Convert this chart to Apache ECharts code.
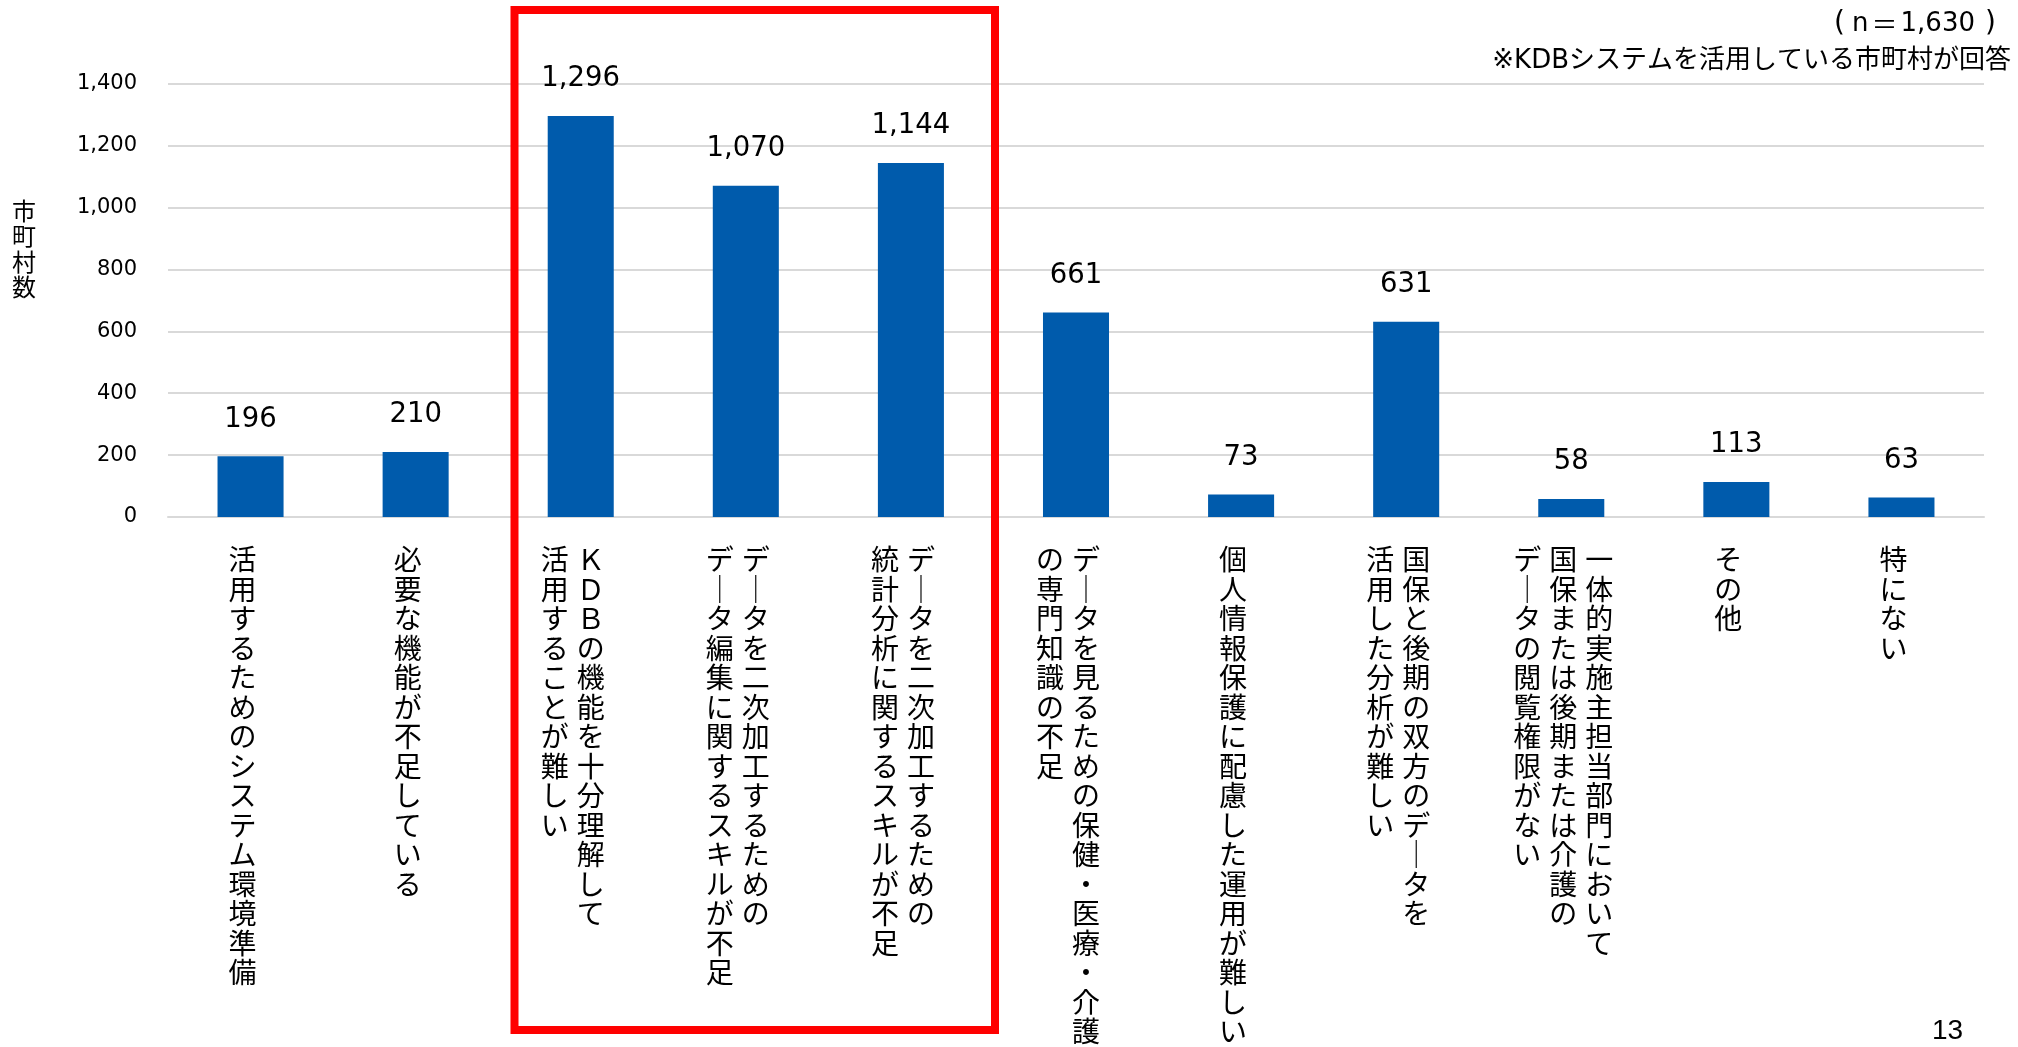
<!DOCTYPE html>
<html>
<head>
<meta charset="utf-8">
<script src="https://cdn.jsdelivr.net/npm/echarts@6/dist/echarts.min.js"></script>
<style>
  html, body { margin: 0; padding: 0; background: #ffffff; }
  #chart { width: 2018px; height: 1047px; }
</style>
</head>
<body>
<div id="chart"></div>
<script>
// Survey answers (multiple choice); a line break starts a new vertical column
const categories = [
  '活用するためのシステム環境準備',
  '必要な機能が不足している',
  'ＫＤＢの機能を十分理解して\n活用することが難しい',
  'データを二次加工するための\nデータ編集に関するスキルが不足',
  'データを二次加工するための\n統計分析に関するスキルが不足',
  'データを見るための保健・医療・介護\nの専門知識の不足',
  '個人情報保護に配慮した運用が難しい',
  '国保と後期の双方のデータを\n活用した分析が難しい',
  '一体的実施主担当部門において\n国保または後期または介護の\nデータの閲覧権限がない',
  'その他',
  '特にない'
];

// Number of municipalities per answer
const counts = [196, 210, 1296, 1070, 1144, 661, 73, 631, 58, 113, 63];

// Value axis ticks
const yMin = 0;
const yMax = 1400;
const yStep = 200;

const axisTitle = '市町村数';
const sampleSize = '1,630';
const scopeNote = '※KDBシステムを活用している市町村が回答';
const pageNumber = '13';

const JP = "'Noto Sans CJK JP', sans-serif";
const NUM = "'DejaVu Sans', 'Noto Sans CJK JP', sans-serif";

// Long vowel mark (U+30FC) is written as a vertical stroke in vertical text
const LONG_MARK = /\u30FC/g;
const LONG_MARK_VERTICAL = '\uFF5C';

// Turn "col1\ncol2" into top-to-bottom Japanese vertical writing,
// first column on the right, one character per rich-text cell.
function toVertical(text) {
  const cols = text.split('\n').map(s => Array.from(s.replace(LONG_MARK, LONG_MARK_VERTICAL)));
  const n = Math.max(...cols.map(c => c.length));
  const lines = [];
  for (let i = 0; i < n; i++) {
    let line = '';
    for (let j = cols.length - 1; j >= 0; j--) {
      line += '{c|' + (cols[j][i] || '\u3000') + '}';
    }
    lines.push(line);
  }
  return lines.join('\n');
}

const chart = echarts.init(document.getElementById('chart'), null, { renderer: 'canvas' });

chart.setOption({
  animation: false,
  backgroundColor: '#ffffff',
  grid: { left: 168, right: 34, top: 83.7, bottom: 530, containLabel: false },
  xAxis: {
    type: 'category',
    data: categories,
    axisLine: { show: true, lineStyle: { color: '#d9d9d9', width: 2 } },
    axisTick: { show: false },
    axisLabel: {
      interval: 0,
      hideOverlap: false,
      margin: 28,
      padding: [0, 16, 0, 0],
      formatter: v => toVertical(v),
      rich: {
        c: {
          width: 36,
          align: 'center',
          fontSize: 28,
          lineHeight: 29.5,
          fontFamily: JP,
          color: '#000000'
        }
      }
    }
  },
  yAxis: {
    type: 'value',
    min: yMin,
    max: yMax,
    interval: yStep,
    axisLine: { show: false },
    axisTick: { show: false },
    splitLine: { lineStyle: { color: '#d9d9d9', width: 2 } },
    axisLabel: {
      margin: 31,
      fontSize: 21,
      fontFamily: NUM,
      color: '#000000',
      formatter: v => v.toLocaleString('en-US')
    }
  },
  series: [{
    type: 'bar',
    data: counts,
    barWidth: '40%',
    itemStyle: { color: '#005bac' },
    label: {
      show: true,
      position: 'top',
      distance: 23,
      fontSize: 27.5,
      fontFamily: NUM,
      color: '#000000',
      formatter: p => p.value.toLocaleString('en-US')
    }
  }],
  graphic: [
    {
      type: 'text',
      left: 12, top: 198,
      style: {
        text: Array.from(axisTitle).join('\n'),
        fontSize: 24, lineHeight: 25.5, fontFamily: JP, fill: '#000000', align: 'center'
      }
    },
    {
      type: 'text',
      right: 22, top: 10,
      style: {
        text: '{po|(}{l|n}{eq|＝}{l|' + sampleSize + '}{pc|)}',
        rich: {
          po: { width: 18, align: 'left', fontSize: 28, lineHeight: 32, fontFamily: NUM, fill: '#000000' },
          eq: { width: 32, align: 'center', fontSize: 26, lineHeight: 32, fontFamily: JP, fill: '#000000' },
          pc: { width: 21, align: 'right', fontSize: 28, lineHeight: 32, fontFamily: NUM, fill: '#000000' },
          l: { fontSize: 26, lineHeight: 32, fontFamily: NUM, fill: '#000000' }
        }
      }
    },
    {
      type: 'text',
      right: 7, top: 48,
      style: { text: scopeNote, fontSize: 26, fontFamily: NUM, fill: '#000000' }
    },
    {
      type: 'rect',
      shape: { x: 514.5, y: 10, width: 480.5, height: 1020 },
      style: { fill: 'none', stroke: '#ff0000', lineWidth: 8 },
      z: 10
    },
    {
      type: 'text',
      left: 1932, top: 1017,
      style: { text: pageNumber, fontSize: 28, fontFamily: "'Liberation Sans', Arial, sans-serif", fill: '#000000' }
    }
  ]
});
</script>
</body>
</html>
